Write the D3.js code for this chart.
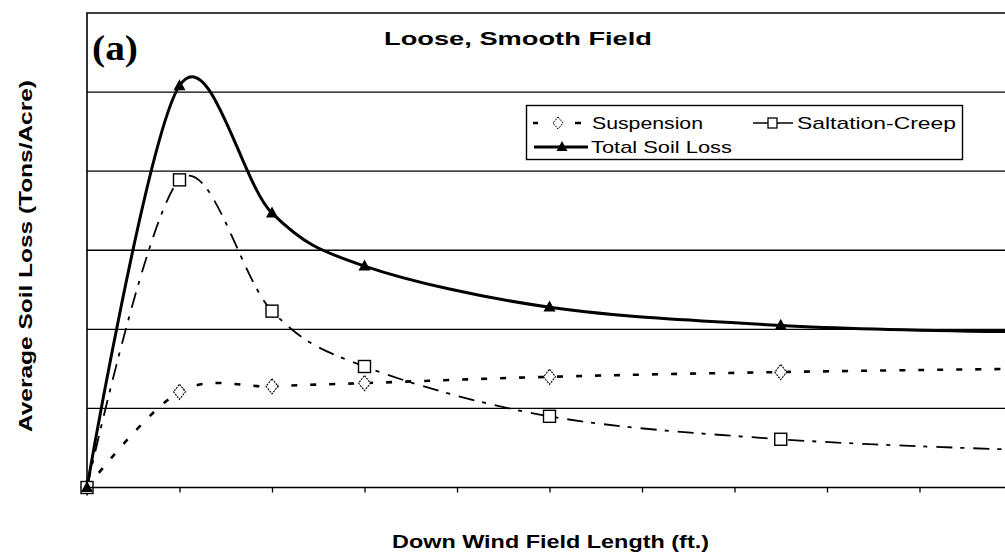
<!DOCTYPE html>
<html><head><meta charset="utf-8">
<script src="https://cdn.jsdelivr.net/npm/d3@7"></script>
<style>body{margin:0;background:#fff}svg{display:block}</style>
</head><body>
<svg id="chart" width="1005" height="558"></svg>
<script>
// ---- data ----
const xValues = [0, 1, 2, 3, 5, 7.5, 10];
const suspension = [0, 1.21, 1.28, 1.32, 1.40, 1.46, 1.50];
const saltationCreep = [0, 3.89, 2.23, 1.53, 0.90, 0.61, 0.48];
const totalSoilLoss = [0, 5.08, 3.47, 2.80, 2.28, 2.05, 1.97];
const xTicks = [0, 1, 2, 3, 4, 5, 6, 7, 8, 9, 10];
const yGrid = [1, 2, 3, 4, 5];
const seriesNames = ["Suspension", "Saltation-Creep", "Total Soil Loss"];
const titleText = "Loose, Smooth Field";
const panelLabel = "(a)";
const xLabel = "Down Wind Field Length (ft.)";
const yLabel = "Average Soil Loss (Tons/Acre)";

const svg = d3.select("#chart");
const pLeft = 87, pRight = 1012, pTop = 13, pBottom = 487.5;
const x = d3.scaleLinear().domain([0, 10]).range([pLeft, pRight]);
const y = d3.scaleLinear().domain([0, 6]).range([pBottom, pTop]);

// gridlines
svg.append("g").selectAll("line").data(yGrid).join("line")
  .attr("x1", pLeft).attr("x2", 1005)
  .attr("y1", d => y(d)).attr("y2", d => y(d))
  .attr("stroke", "#000").attr("stroke-width", 1.3);

// x axis with ticks outside, no labels
const xAxis = d3.axisBottom(x).tickValues(xTicks).tickSize(5).tickFormat("");
const gx = svg.append("g").attr("transform", `translate(0,${pBottom})`).call(xAxis);
gx.select(".domain").remove();
gx.selectAll(".tick line").attr("stroke", "#000").attr("stroke-width", 1.3);

const line = d3.line().curve(d3.curveCardinal.tension(0))
  .x((d, i) => x(xValues[i])).y(d => y(d));

// series lines
svg.append("path").datum(suspension).attr("d", line)
  .attr("fill", "none").attr("stroke", "#000").attr("stroke-width", 2.6)
  .attr("stroke-dasharray", "6,13");
svg.append("path").datum(saltationCreep).attr("d", line)
  .attr("fill", "none").attr("stroke", "#000").attr("stroke-width", 1.8)
  .attr("stroke-dasharray", "16,8,4,9");
svg.append("path").datum(totalSoilLoss).attr("d", line)
  .attr("fill", "none").attr("stroke", "#000").attr("stroke-width", 3);

// markers
const diamond = (cx, cy, w, h) => `M${cx},${cy - h/2}L${cx + w/2},${cy}L${cx},${cy + h/2}L${cx - w/2},${cy}Z`;
const tri = (cx, cy, w, h) => `M${cx},${cy - h*0.6}L${cx + w/2},${cy + h*0.4}L${cx - w/2},${cy + h*0.4}Z`;

svg.append("g").selectAll("path").data(suspension).join("path")
  .attr("d", (d, i) => diamond(x(xValues[i]), y(d), 12, 15))
  .attr("fill", "#fff").attr("stroke", "#000").attr("stroke-width", 1.1)
  .attr("stroke-dasharray", "2,1");
svg.append("g").selectAll("rect").data(saltationCreep).join("rect")
  .attr("x", (d, i) => x(xValues[i]) - 6).attr("y", d => y(d) - 6)
  .attr("width", 12).attr("height", 12)
  .attr("fill", "#fff").attr("stroke", "#000").attr("stroke-width", 1.4);
svg.append("g").selectAll("path").data(totalSoilLoss).join("path")
  .attr("d", (d, i) => tri(x(xValues[i]), y(d), 12, 11))
  .attr("fill", "#000");

// frame (left, top, bottom axis)
svg.append("path")
  .attr("d", `M${pLeft},${pBottom}V${pTop}H1005M${pLeft},${pBottom}H1005`)
  .attr("fill", "none").attr("stroke", "#000").attr("stroke-width", 1.6);

// legend
const lg = svg.append("g");
lg.append("rect").attr("x", 526.5).attr("y", 105.5).attr("width", 436).attr("height", 54)
  .attr("fill", "#fff").attr("stroke", "#000").attr("stroke-width", 1.4);
const r1 = 123, r2 = 147;
lg.append("line").attr("x1", 533).attr("x2", 581).attr("y1", r1).attr("y2", r1)
  .attr("stroke", "#000").attr("stroke-width", 2.6).attr("stroke-dasharray", "5,37,6");
lg.append("path").attr("d", diamond(558, r1, 10, 12))
  .attr("fill", "#fff").attr("stroke", "#000").attr("stroke-width", 1).attr("stroke-dasharray", "2,1");
lg.append("text").attr("x", 592).attr("y", r1 + 6).text(seriesNames[0])
  .attr("textLength", 111).attr("lengthAdjust", "spacingAndGlyphs");
lg.append("line").attr("x1", 753).attr("x2", 793).attr("y1", r1).attr("y2", r1)
  .attr("stroke", "#000").attr("stroke-width", 1.5);
lg.append("rect").attr("x", 768).attr("y", r1 - 5).attr("width", 9).attr("height", 10)
  .attr("fill", "#fff").attr("stroke", "#000").attr("stroke-width", 1.3);
lg.append("text").attr("x", 797).attr("y", r1 + 6).text(seriesNames[1])
  .attr("textLength", 159).attr("lengthAdjust", "spacingAndGlyphs");
lg.append("line").attr("x1", 534).attr("x2", 588).attr("y1", r2).attr("y2", r2)
  .attr("stroke", "#000").attr("stroke-width", 3);
lg.append("path").attr("d", tri(562, r2, 11, 10)).attr("fill", "#000");
lg.append("text").attr("x", 591).attr("y", r2 + 6).text(seriesNames[2])
  .attr("textLength", 141).attr("lengthAdjust", "spacingAndGlyphs");
lg.selectAll("text").attr("font-family", "Arial, 'Liberation Sans', sans-serif")
  .attr("font-size", 17).attr("fill", "#000");

// titles
svg.append("text").attr("x", 384).attr("y", 45).text(titleText)
  .attr("font-family", "Arial, 'Liberation Sans', sans-serif").attr("font-weight", "bold")
  .attr("font-size", 18).attr("textLength", 268).attr("lengthAdjust", "spacingAndGlyphs");
svg.append("text").attr("x", 92).attr("y", 60).text(panelLabel)
  .attr("font-family", "'Times New Roman', 'Liberation Serif', serif").attr("font-weight", "bold")
  .attr("font-size", 36).attr("textLength", 46).attr("lengthAdjust", "spacingAndGlyphs");
svg.append("text").attr("x", 392).attr("y", 548).text(xLabel)
  .attr("font-family", "Arial, 'Liberation Sans', sans-serif").attr("font-weight", "bold")
  .attr("font-size", 18).attr("textLength", 317).attr("lengthAdjust", "spacingAndGlyphs");
svg.append("text").attr("transform", "translate(32,256) rotate(-90)")
  .attr("text-anchor", "middle").text(yLabel)
  .attr("font-family", "Arial, 'Liberation Sans', sans-serif").attr("font-weight", "bold")
  .attr("font-size", 18).attr("textLength", 352).attr("lengthAdjust", "spacingAndGlyphs");
</script>
</body></html>
